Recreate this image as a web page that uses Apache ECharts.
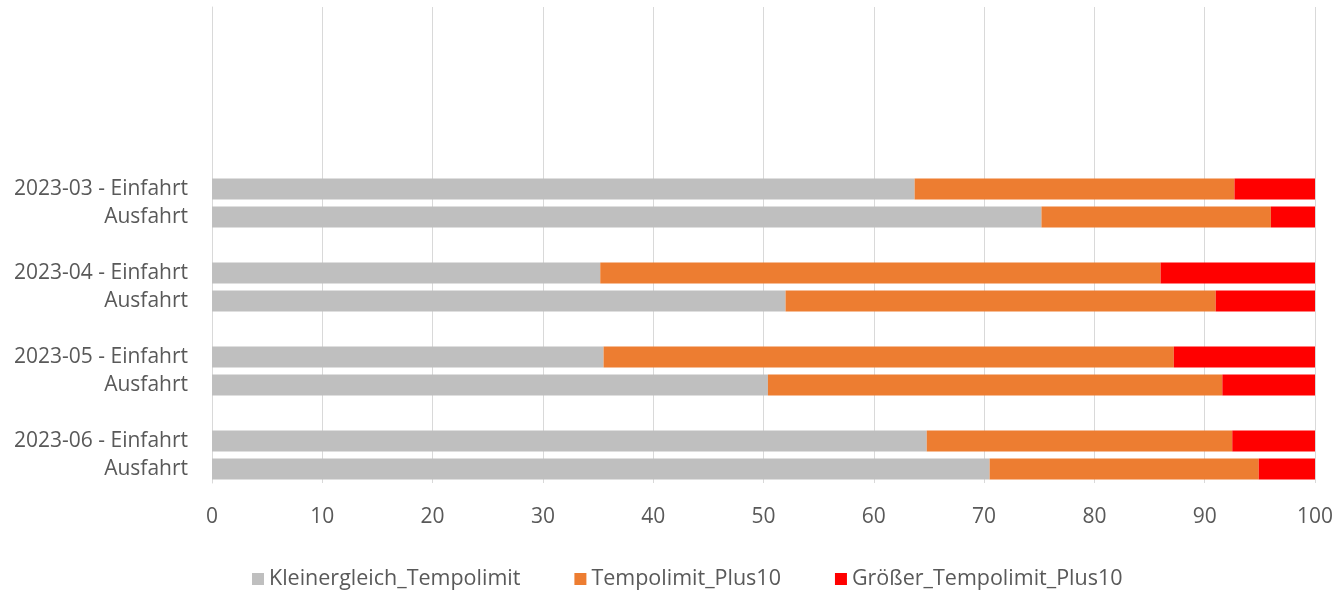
<!DOCTYPE html>
<html>
<head>
<meta charset="utf-8">
<script src="https://cdn.jsdelivr.net/npm/echarts@6/dist/echarts.min.js"></script>
<style>html,body{margin:0;padding:0;background:#fff;}#c{width:1341px;height:590px;}</style>
</head>
<body>
<div id="c"></div>
<script>
const categories = ['', '', '', '', '', '',
  '2023-03 - Einfahrt', 'Ausfahrt', '',
  '2023-04 - Einfahrt', 'Ausfahrt', '',
  '2023-05 - Einfahrt', 'Ausfahrt', '',
  '2023-06 - Einfahrt', 'Ausfahrt'];
const seriesNames = ['Kleinergleich_Tempolimit', 'Tempolimit_Plus10', 'Größer_Tempolimit_Plus10'];
const kleinergleich = [null, null, null, null, null, null, 63.7, 75.2, null, 35.2, 52.0, null, 35.5, 50.4, null, 64.8, 70.5];
const plus10 = [null, null, null, null, null, null, 29.0, 20.8, null, 50.8, 39.0, null, 51.7, 41.2, null, 27.7, 24.4];
const groesser = [null, null, null, null, null, null, 7.3, 4.0, null, 14.0, 9.0, null, 12.8, 8.4, null, 7.5, 5.1];
const colors = ['#BFBFBF', '#ED7D31', '#FF0000'];
const values = [kleinergleich, plus10, groesser];

const font = 'Open Sans';
const chart = echarts.init(document.getElementById('c'));
chart.setOption({
  animation: false,
  grid: { left: 212, right: 26, top: 7, bottom: 107, containLabel: false },
  legend: {
    bottom: -5,
    left: 247,
    itemWidth: 12,
    itemHeight: 12,
    itemGap: 54,
    icon: 'rect',
    textStyle: { color: '#595959', fontSize: 21.5, fontFamily: font },
    data: seriesNames
  },
  xAxis: {
    type: 'value', min: 0, max: 100, interval: 10,
    axisLine: { show: false }, axisTick: { show: false },
    splitLine: { lineStyle: { color: '#D9D9D9', width: 1 } },
    axisLabel: { color: '#595959', fontSize: 21, fontFamily: font, margin: 24 }
  },
  yAxis: {
    type: 'category', inverse: true, data: categories,
    axisLine: { show: true, lineStyle: { color: '#D9D9D9' } },
    axisTick: { show: false },
    axisLabel: { color: '#595959', fontSize: 21, fontFamily: font, margin: 24 }
  },
  series: seriesNames.map((n, i) => ({
    name: n, type: 'bar', stack: 'total', data: values[i],
    barWidth: '75%',
    itemStyle: { color: colors[i] }
  }))
});
</script>
</body>
</html>
